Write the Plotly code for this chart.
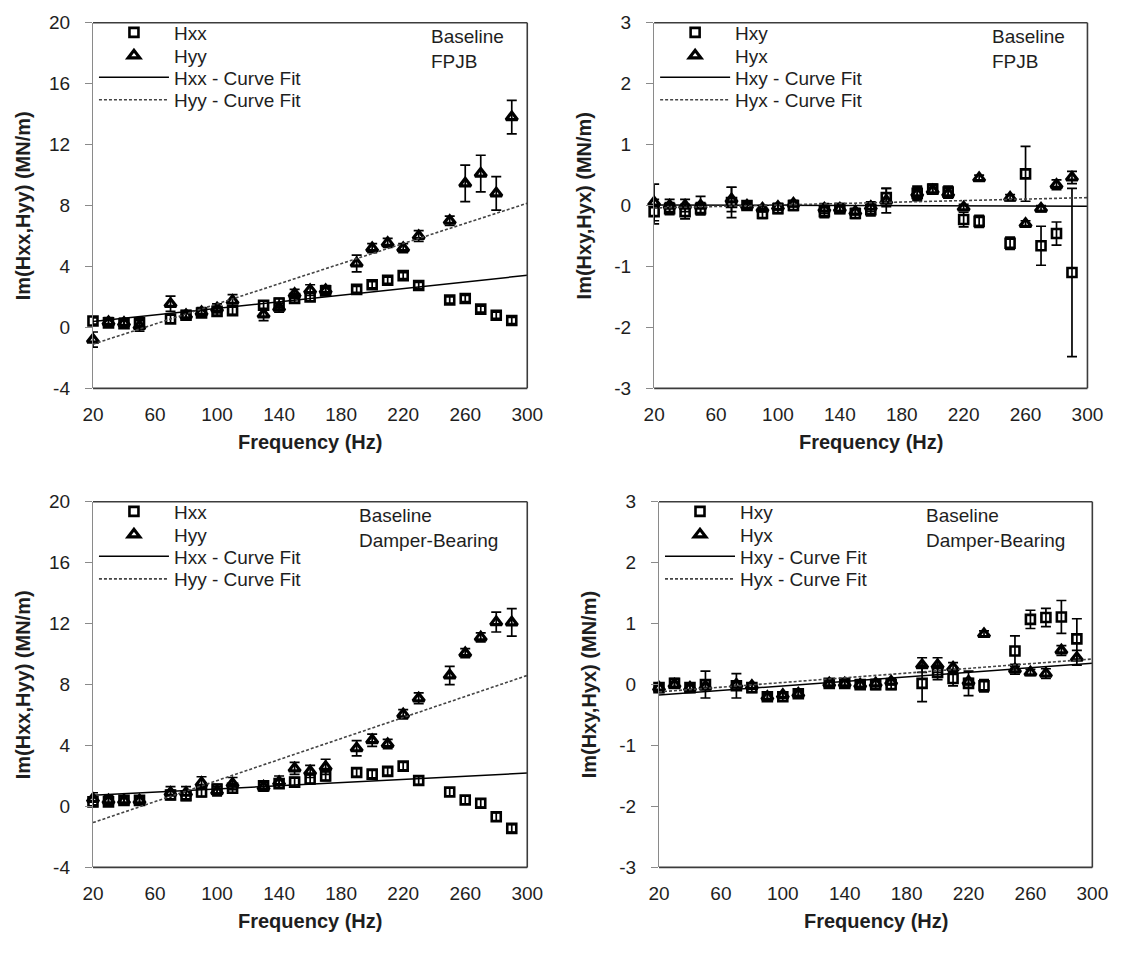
import plotly.graph_objects as go

# ---------------------------------------------------------------- data
freq = [20, 30, 40, 50, 70, 80, 90, 100, 110, 130, 140, 150,
        160, 170, 190, 200, 210, 220, 230, 250, 260, 270, 280, 290]
fit_freq = [20, 300]

# Baseline FPJB - direct terms
fpjb_hxx = [0.42, 0.30, 0.25, 0.30, 0.55, 0.80, 0.95, 1.05, 1.10, 1.45, 1.60, 1.90,
            2.00, 2.40, 2.50, 2.80, 3.10, 3.40, 2.75, 1.80, 1.90, 1.20, 0.80, 0.45]
fpjb_hxx_err = [0.2, 0.2, 0.2, 0.2, 0.25, 0.2, 0.2, 0.25, 0.25, 0.3, 0.3, 0.25,
                0.25, 0.2, 0.2, 0.2, 0.2, 0.2, 0.2, 0.2, 0.2, 0.2, 0.2, 0.2]
fpjb_hyy = [-0.80, 0.35, 0.30, 0.10, 1.55, 0.80, 1.00, 1.25, 1.75, 0.85, 1.30, 2.20,
            2.45, 2.45, 4.20, 5.20, 5.55, 5.20, 6.00, 7.00, 9.45, 10.10, 8.80, 13.80]
fpjb_hyy_err = [0.5, 0.3, 0.3, 0.35, 0.5, 0.3, 0.3, 0.3, 0.4, 0.4, 0.3, 0.3,
                0.35, 0.3, 0.55, 0.3, 0.3, 0.3, 0.35, 0.3, 1.2, 1.2, 1.1, 1.1]
fpjb_hxx_fit = [0.38, 3.42]
fpjb_hyy_fit = [-1.10, 8.15]

# Baseline FPJB - cross-coupled terms
fpjb_hxy = [-0.10, -0.05, -0.10, -0.05, 0.05, 0.00, -0.13, -0.05, 0.00, -0.10, -0.05, -0.13,
            -0.07, 0.13, 0.20, 0.27, 0.22, -0.23, -0.26, -0.62, 0.52, -0.66, -0.46, -1.10]
fpjb_hxy_err = [0.2, 0.1, 0.12, 0.1, 0.25, 0.05, 0.08, 0.08, 0.08, 0.1, 0.08, 0.08,
                0.1, 0.15, 0.12, 0.08, 0.1, 0.12, 0.1, 0.1, 0.45, 0.32, 0.19, 1.38]
fpjb_hyx = [0.05, 0.00, 0.00, 0.00, 0.10, 0.00, -0.05, -0.02, 0.03, -0.05, -0.05, -0.10,
            -0.02, 0.08, 0.20, 0.25, 0.20, -0.03, 0.45, 0.13, -0.30, -0.05, 0.34, 0.46]
fpjb_hyx_err = [0.3, 0.1, 0.1, 0.15, 0.2, 0.05, 0.05, 0.05, 0.05, 0.08, 0.05, 0.05,
                0.08, 0.2, 0.1, 0.05, 0.08, 0.05, 0.05, 0.05, 0.05, 0.05, 0.08, 0.1]
fpjb_hxy_fit = [0.01, -0.01]
fpjb_hyx_fit = [-0.04, 0.13]

# Baseline Damper-Bearing - direct terms
db_hxx = [0.30, 0.30, 0.40, 0.40, 0.75, 0.70, 0.95, 1.15, 1.20, 1.35, 1.50, 1.60,
          1.80, 2.00, 2.23, 2.12, 2.30, 2.65, 1.70, 0.95, 0.42, 0.21, -0.68, -1.44]
db_hxx_err = [0.3, 0.25, 0.25, 0.3, 0.3, 0.3, 0.3, 0.3, 0.3, 0.25, 0.3, 0.3,
              0.3, 0.3, 0.25, 0.25, 0.25, 0.25, 0.25, 0.25, 0.25, 0.25, 0.25, 0.25]
db_hyy = [0.50, 0.40, 0.40, 0.40, 0.90, 0.90, 1.55, 1.00, 1.50, 1.30, 1.60, 2.50,
          2.30, 2.60, 3.82, 4.35, 4.10, 6.05, 7.10, 8.60, 10.06, 11.10, 12.10, 12.08]
db_hyy_err = [0.4, 0.3, 0.3, 0.3, 0.4, 0.4, 0.4, 0.3, 0.4, 0.3, 0.4, 0.4,
              0.4, 0.5, 0.5, 0.4, 0.3, 0.3, 0.35, 0.6, 0.3, 0.3, 0.65, 0.9]
db_hxx_fit = [0.74, 2.19]
db_hyy_fit = [-1.06, 8.60]

# Baseline Damper-Bearing - cross-coupled terms
db_hxy = [-0.05, 0.02, -0.05, 0.00, -0.02, -0.05, -0.20, -0.20, -0.15, 0.02, 0.02, 0.00,
          0.00, 0.00, 0.02, 0.20, 0.10, 0.02, -0.02, 0.55, 1.07, 1.10, 1.11, 0.75]
db_hxy_err = [0.08, 0.08, 0.06, 0.22, 0.2, 0.08, 0.06, 0.06, 0.06, 0.06, 0.06, 0.05,
              0.08, 0.08, 0.3, 0.12, 0.12, 0.2, 0.1, 0.25, 0.15, 0.15, 0.27, 0.33]
db_hyx = [-0.05, 0.00, -0.05, -0.03, 0.00, -0.02, -0.20, -0.17, -0.15, 0.02, 0.02, 0.00,
          0.02, 0.05, 0.32, 0.32, 0.28, 0.05, 0.83, 0.25, 0.20, 0.18, 0.56, 0.44]
db_hyx_err = [0.05, 0.05, 0.05, 0.05, 0.05, 0.05, 0.05, 0.05, 0.05, 0.05, 0.05, 0.05,
              0.05, 0.05, 0.12, 0.12, 0.08, 0.05, 0.05, 0.08, 0.05, 0.08, 0.08, 0.12]
db_hxy_fit = [-0.17, 0.35]
db_hyx_fit = [-0.12, 0.42]

x_ticks = [20, 60, 100, 140, 180, 220, 260, 300]
direct_ticks = [-4, 0, 4, 8, 12, 16, 20]
direct_tick_labels = ["-4", "0", "4", "8", "12", "16", "20"]
cross_ticks = [-3, -2, -1, 0, 1, 2, 3]
cross_tick_labels = ["-3", "-2", "-1", "0", "1", "2", "3"]

# ---------------------------------------------------------------- layout helpers
# page body keeps its default 8 px margin; the figure fills the rest
OFF = 8
FW, FH = 1138 - 2 * OFF, 956 - 2 * OFF
FONT = "Liberation Sans, Arial, sans-serif"
TXT = "#1e1e1e"
AXIS_GREY = "#8a8a8a"
FRAME = "#3c3c3c"


def px(x):
    return (x - OFF) / FW


def py(y):
    return 1 - (y - OFF) / FH


# each panel: page-pixel box (left, top, right, bottom), y range, y ticks, labels
panels = [
    dict(box=(92, 21, 537, 395), yr=[-4, 20], yt=direct_ticks, ytl=direct_tick_labels,
         names=("Hxx", "Hyy"), ytitle="Im(Hxx,Hyy) (MN/m)",
         note="Baseline<br>FPJB", note_x=436,
         series=(fpjb_hxx, fpjb_hxx_err, fpjb_hyy, fpjb_hyy_err, fpjb_hxx_fit, fpjb_hyy_fit)),
    dict(box=(667, 21, 1111, 395), yr=[-3, 3], yt=cross_ticks, ytl=cross_tick_labels,
         names=("Hxy", "Hyx"), ytitle="Im(Hxy,Hyx) (MN/m)",
         note="Baseline<br>FPJB", note_x=1011,
         series=(fpjb_hxy, fpjb_hxy_err, fpjb_hyx, fpjb_hyx_err, fpjb_hxy_fit, fpjb_hyx_fit)),
    dict(box=(92, 511, 537, 885), yr=[-4, 20], yt=direct_ticks, ytl=direct_tick_labels,
         names=("Hxx", "Hyy"), ytitle="Im(Hxx,Hyy) (MN/m)",
         note="Baseline<br>Damper-Bearing", note_x=363,
         series=(db_hxx, db_hxx_err, db_hyy, db_hyy_err, db_hxx_fit, db_hyy_fit)),
    dict(box=(672, 511, 1116, 885), yr=[-3, 3], yt=cross_ticks, ytl=cross_tick_labels,
         names=("Hxy", "Hyx"), ytitle="Im(Hxy,Hyx) (MN/m)",
         note="Baseline<br>Damper-Bearing", note_x=944,
         series=(db_hxy, db_hxy_err, db_hyx, db_hyx_err, db_hxy_fit, db_hyx_fit)),
]

# vertical offsets of the legend rows below the plot-area top
ROW_OFFSETS = [10, 33.5, 56, 79]

fig = go.Figure()
annotations = []
shapes = []
layout = {}
legend_no = 0

for i, p in enumerate(panels, start=1):
    l, t, r, b = p["box"]
    sfx = "" if i == 1 else str(i)
    xa, ya = f"x{sfx}", f"y{sfx}"
    xkey, ykey = f"xaxis{sfx}", f"yaxis{sfx}"
    a, c = p["names"]
    s1, e1, s2, e2, f1, f2 = p["series"]

    # one single-entry legend per row so the rows sit at fixed heights
    lgs = []
    for off in ROW_OFFSETS:
        legend_no += 1
        key = "legend" if legend_no == 1 else f"legend{legend_no}"
        lgs.append(key)
        layout[key] = dict(x=px(l + 1), y=py(t + off), xanchor="left", yanchor="middle",
                           bgcolor="rgba(0,0,0,0)", borderwidth=0, itemwidth=70,
                           font=dict(family=FONT, size=19, color=TXT))

    fig.add_trace(go.Scatter(
        x=freq, y=s1, mode="markers", name=a, xaxis=xa, yaxis=ya, legend=lgs[0],
        marker=dict(symbol="square-open", size=9, color="black",
                    line=dict(width=2.6, color="black")),
        error_y=dict(type="data", array=e1, color="black", thickness=1.7, width=5),
        cliponaxis=False))
    fig.add_trace(go.Scatter(
        x=freq, y=s2, mode="markers", name=c, xaxis=xa, yaxis=ya, legend=lgs[1],
        marker=dict(symbol="triangle-up-open", size=10, color="black",
                    line=dict(width=3.2, color="black")),
        error_y=dict(type="data", array=e2, color="black", thickness=1.7, width=5),
        cliponaxis=False))
    fig.add_trace(go.Scatter(
        x=fit_freq, y=f1, mode="lines", name=f"{a} - Curve Fit", xaxis=xa, yaxis=ya,
        legend=lgs[2], line=dict(color="black", width=1.5)))
    fig.add_trace(go.Scatter(
        x=fit_freq, y=f2, mode="lines", name=f"{c} - Curve Fit", xaxis=xa, yaxis=ya,
        legend=lgs[3], line=dict(color="#444444", width=1.6, dash="3px,2px")))

    xdom = [px(l), px(r)]
    ydom = [py(b), py(t)]
    y0, y1 = p["yr"]
    zero_pos = ydom[0] + (ydom[1] - ydom[0]) * (0 - y0) / (y1 - y0)

    layout[xkey] = dict(domain=xdom, anchor=ya, range=[20, 300], tickvals=x_ticks,
                        showgrid=False, zeroline=False, showline=False,
                        ticks="outside", ticklen=0, ticklabelstandoff=9,
                        tickfont=dict(family=FONT, size=19, color=TXT))
    layout[ykey] = dict(domain=ydom, anchor=xa, range=p["yr"], tickvals=p["yt"],
                        ticktext=p["ytl"],
                        showgrid=False, zeroline=False, showline=True,
                        linecolor=AXIS_GREY, linewidth=1.3,
                        ticks="outside", ticklen=7, tickcolor=AXIS_GREY, tickwidth=1.3,
                        ticklabelstandoff=11,
                        tickfont=dict(family=FONT, size=19, color=TXT))
    # horizontal category axis crossing at zero, ticks only
    zkey = f"xaxis{i + 4}"
    layout[zkey] = dict(overlaying=xa, anchor="free", position=zero_pos,
                        range=[20, 300], tickvals=x_ticks, showticklabels=False,
                        showgrid=False, zeroline=False, showline=True,
                        linecolor=AXIS_GREY, linewidth=1.3,
                        ticks="outside", ticklen=6, tickcolor=AXIS_GREY, tickwidth=1.3)

    # plot area frame (top, right, bottom)
    for (xs, ys, xe, ye) in [(0, 1, 1, 1), (1, 1, 1, 0), (0, 0, 1, 0)]:
        shapes.append(dict(type="line", xref=f"{xa} domain", yref=f"{ya} domain",
                           x0=xs, y0=ys, x1=xe, y1=ye,
                           line=dict(color=FRAME, width=1.6)))

    annotations.append(dict(text=p["note"], x=px(p["note_x"]), y=py(t + 1),
                            xref="paper", yref="paper", xanchor="left", yanchor="top",
                            align="left", showarrow=False,
                            font=dict(family=FONT, size=19, color=TXT)))
    annotations.append(dict(text="Frequency (Hz)", x=px((l + r) / 2), y=py(b + 55),
                            xref="paper", yref="paper", xanchor="center", yanchor="middle",
                            showarrow=False,
                            font=dict(family=FONT, size=20, color=TXT, weight="bold")))
    annotations.append(dict(text=p["ytitle"], x=px(l - 72), y=py((t + b) / 2),
                            xref="paper", yref="paper", xanchor="center", yanchor="middle",
                            textangle=-90, showarrow=False,
                            font=dict(family=FONT, size=20, color=TXT, weight="bold")))

fig.update_layout(width=FW, height=FH, margin=dict(l=0, r=0, t=0, b=0),
                  paper_bgcolor="white", plot_bgcolor="white", showlegend=True,
                  annotations=annotations, shapes=shapes, **layout)

fig.write_html("out.html")
